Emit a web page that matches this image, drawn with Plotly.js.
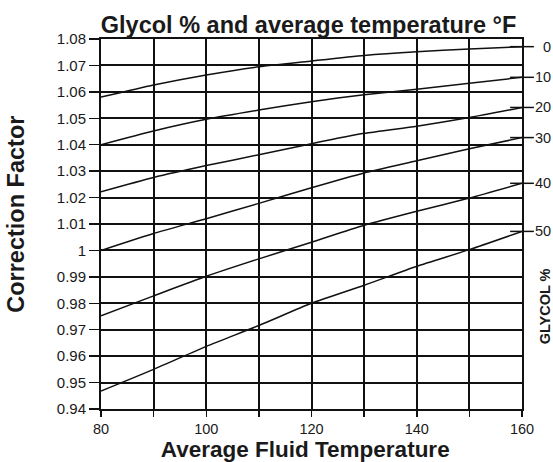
<!DOCTYPE html>
<html>
<head>
<meta charset="utf-8">
<script src="https://cdn.plot.ly/plotly-3.0.1.min.js"></script>
<style>html,body{margin:0;padding:0;background:#fff;}#chart{width:553px;height:462px;}</style>
</head>
<body>
<div id="chart"></div>
<script>
// Average fluid temperature (°F)
const temps = [80, 90, 100, 110, 120, 130, 140, 150, 160];
// Correction factor per glycol %
const glycolLabels = ["0", "10", "20", "30", "40", "50"];
const g0  = [1.0580, 1.0626, 1.0664, 1.0695, 1.0717, 1.0738, 1.0752, 1.0762, 1.0771];
const g10 = [1.0400, 1.0452, 1.0496, 1.0531, 1.0563, 1.0589, 1.0610, 1.0633, 1.0655];
const g20 = [1.0222, 1.0276, 1.0321, 1.0362, 1.0404, 1.0443, 1.0470, 1.0503, 1.0541];
const g30 = [1.0000, 1.0064, 1.0120, 1.0178, 1.0237, 1.0293, 1.0339, 1.0385, 1.0427];
const g40 = [0.9753, 0.9828, 0.9902, 0.9968, 1.0031, 1.0095, 1.0148, 1.0198, 1.0254];
const g50 = [0.9468, 0.9550, 0.9637, 0.9716, 0.9800, 0.9868, 0.9940, 1.0003, 1.0072];
const yTicks = [0.94, 0.95, 0.96, 0.97, 0.98, 0.99, 1.00, 1.01, 1.02, 1.03, 1.04, 1.05, 1.06, 1.07, 1.08];
const yTickText = ["0.94", "0.95", "0.96", "0.97", "0.98", "0.99", "1", "1.01", "1.02", "1.03", "1.04", "1.05", "1.06", "1.07", "1.08"];
const xTicks = [80, 90, 100, 110, 120, 130, 140, 150, 160];
const xTickText = ["80", "", "100", "", "120", "", "140", "", "160"];

const series = [g0, g10, g20, g30, g40, g50];
const FONT = "Liberation Sans, Arial, Helvetica, sans-serif";
const TXT = "#1a1a1a";

const traces = series.map((s, i) => ({
  x: temps, y: s, type: "scatter", mode: "lines",
  name: glycolLabels[i] + "%",
  line: {color: "#111", width: 1.5, shape: "spline", smoothing: 0.6},
  hoverinfo: "x+y+name"
}));

const endX = series.map(() => temps[temps.length - 1]);
const endY = series.map(s => s[s.length - 1]);
traces.push({
  x: endX, y: endY, type: "scatter", mode: "markers", cliponaxis: false,
  marker: {symbol: "line-ew-open", size: 17, color: "#111", line: {color: "#111", width: 1.5}},
  hoverinfo: "skip", showlegend: false
});

const annotations = series.map((s, i) => ({
  x: temps[temps.length - 1], y: s[s.length - 1], xref: "x", yref: "y",
  text: glycolLabels[i], showarrow: false, xanchor: "right", yanchor: "middle",
  xshift: 31, font: {family: FONT, size: 14.5, color: TXT}
}));
annotations.push({
  x: 1.055, y: 0.278, xref: "paper", yref: "paper",
  text: "<b>GLYCOL %</b>", textangle: -90, showarrow: false,
  xanchor: "center", yanchor: "middle",
  font: {family: FONT, size: 14.5, color: TXT}
});

const layout = {
  width: 553, height: 462,
  margin: {l: 101, r: 31, t: 39, b: 53, pad: 0},
  paper_bgcolor: "#fff", plot_bgcolor: "#fff",
  showlegend: false,
  title: {
    text: "<b>Glycol % and average temperature °F</b>",
    font: {family: FONT, size: 23.5, color: TXT},
    xref: "container", x: 0.558, xanchor: "center",
    yref: "container", y: 0.946, yanchor: "middle"
  },
  xaxis: {
    range: [80, 160], tickvals: xTicks, ticktext: xTickText,
    showgrid: true, gridcolor: "#111", gridwidth: 2,
    ticks: "outside", ticklen: 6, tickwidth: 1.5, tickcolor: "#111",
    showline: true, mirror: true, linecolor: "#111", linewidth: 2,
    zeroline: false, automargin: false,
    tickfont: {family: FONT, size: 14.5, color: TXT},
    title: {text: "<b>Average Fluid Temperature</b>&nbsp;&nbsp;", font: {family: FONT, size: 22.5, color: TXT}, standoff: 7}
  },
  yaxis: {
    range: [0.94, 1.08], tickvals: yTicks, ticktext: yTickText,
    showgrid: true, gridcolor: "#111", gridwidth: 2,
    ticks: "outside", ticklen: 10, tickwidth: 1.5, tickcolor: "#111",
    showline: true, mirror: true, linecolor: "#111", linewidth: 2,
    zeroline: false, automargin: false,
    tickfont: {family: FONT, size: 15, color: TXT},
    title: {text: "&nbsp;&nbsp;&nbsp;<b>Correction Factor</b>", font: {family: FONT, size: 23.5, color: TXT}, standoff: 26}
  },
  annotations: annotations
};

Plotly.newPlot("chart", traces, layout, {displayModeBar: false, staticPlot: true});
</script>
</body>
</html>
